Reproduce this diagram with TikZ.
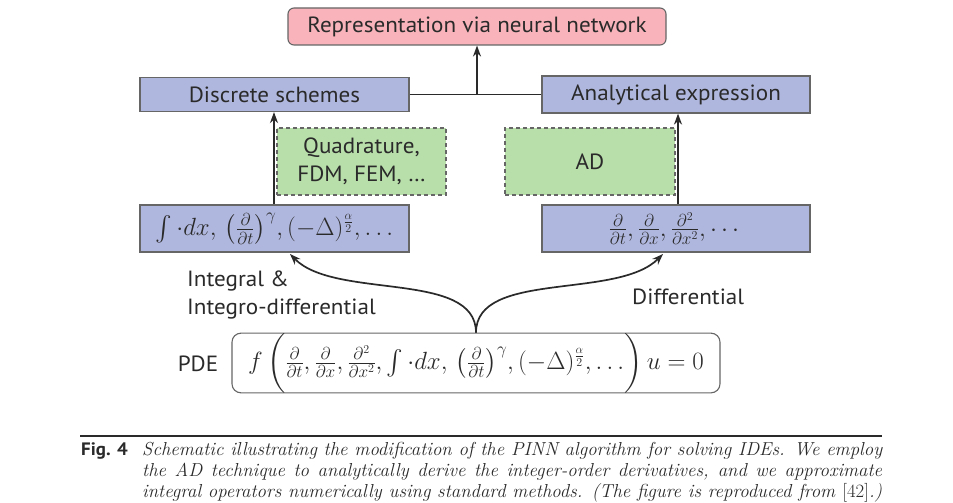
\documentclass[tikz,border=0pt]{standalone}
\usepackage{fontspec}
\setsansfont{PT Sans}[FakeStretch=1.05]
\usepackage{amsmath}
\usetikzlibrary{arrows.meta}
\definecolor{pinkfill}{HTML}{F8B4BA}
\definecolor{lavfill}{HTML}{B0B7DE}
\definecolor{greenfill}{HTML}{B8DEAA}
\definecolor{edgegray}{HTML}{666666}
\definecolor{ink}{HTML}{2A2A2A}
\begin{document}
\begin{tikzpicture}[x=1pt,y=-1pt,
  lbl/.style={font=\sffamily\fontsize{22}{28}\selectfont, text=ink},
  mth/.style={font=\fontsize{24.5}{28}\selectfont, text=ink},
  repbox/.style={draw=edgegray, line width=1.1pt, fill=pinkfill, rounded corners=6pt, inner sep=0pt},
  lavbox/.style={draw=edgegray, line width=1.2pt, fill=lavfill, inner sep=0pt},
  greenbox/.style={draw=edgegray, line width=1.1pt, dashed, dash pattern=on 4pt off 3pt, fill=greenfill, inner sep=0pt},
  pdebox/.style={draw=edgegray, line width=1.1pt, fill=white, rounded corners=9pt, inner sep=0pt},
  conn/.style={draw=ink, line width=1.7pt},
  arr/.style={conn, -{Stealth[length=11pt,width=8pt]}},
  captxt/.style={font=\fontsize{18.8}{21}\selectfont\itshape, text=ink, inner sep=0pt, anchor=base west}
]
\useasboundingbox[fill=white] (0,0) rectangle (953,503);

% boxes
\node[repbox, lbl, minimum width=378pt, minimum height=37pt] (rep) at (477,26.5) {Representation via neural network};
\node[lavbox, lbl, minimum width=269pt, minimum height=34pt] (ds) at (274.5,94.5) {Discrete schemes};
\node[lavbox, lbl, minimum width=268pt, minimum height=37pt] (ae) at (676,94.5) {Analytical expression};
\node[greenbox, lbl, minimum width=169pt, minimum height=67pt, align=center] (quad) at (361.5,161.5) {Quadrature,\\ FDM, FEM, \ldots};
\node[greenbox, lbl, minimum width=170pt, minimum height=67pt] (ad) at (590,161.5) {AD};
\node[lavbox, mth, minimum width=269pt, minimum height=47pt] (lf) at (274.5,228.5)
  {$\int \cdot dx,\, \left(\frac{\partial}{\partial t}\right)^{\gamma}\!, (-\Delta)^{\frac{\alpha}{2}}, \ldots$};
\node[lavbox, mth, minimum width=268pt, minimum height=47pt] (rf) at (676,228.5)
  {$\frac{\partial}{\partial t}, \frac{\partial}{\partial x}, \frac{\partial^2}{\partial x^2}, \cdots$};
\node[pdebox, mth, minimum width=488pt, minimum height=58pt] (pde) at (476,363)
  {$f\,\biggl(\frac{\partial}{\partial t}, \frac{\partial}{\partial x}, \frac{\partial^2}{\partial x^2}, \int \cdot dx,\, \left(\frac{\partial}{\partial t}\right)^{\gamma}\!, (-\Delta)^{\frac{\alpha}{2}}, \ldots\biggr)\, u = 0$};

% labels
\node[lbl, anchor=base] (pdel) at (198,371) {PDE};
\node[lbl, anchor=north west, inner sep=0pt, align=left] (intl) at (187,271) {Integral \&\\Integro-differential};
\node[lbl, anchor=base west, inner sep=0pt] (difl) at (632,304) {Differential};

% connectors
\coordinate (mid) at (477,94.5);
\draw[conn] (ds.east) -- (ae.west);
\draw[arr] (mid) -- (rep.south);
\coordinate (lfa) at (274,205);
\coordinate (dsa) at (274,111);
\coordinate (rfa) at (678,205);
\coordinate (aea) at (678,113);
\draw[arr] (lf.north -| lfa) -- (ds.south -| dsa);
\draw[arr] (rf.north -| rfa) -- (ae.south -| aea);
\coordinate (lt) at (290,254);
\coordinate (rt) at (663,254);
\draw[arr] (pde.north) .. controls (476,270) and (335,300) .. (lt);
\draw[arr] (pde.north) .. controls (476,270) and (617,300) .. (rt);

% caption
\coordinate (rl) at (80,436);
\coordinate (rr) at (882,436);
\draw[draw=ink, line width=1.2pt] (rl) -- (rr);
\node[font=\sffamily\bfseries\fontsize{18}{21}\selectfont, text=ink, inner sep=0pt, anchor=base west] (fig) at (81,455) {Fig. 4};
\node[captxt] (c1) at (142,455) {\makebox[740pt][s]{Schematic illustrating the modification of the PINN algorithm for solving IDEs. We employ}};
\node[captxt] (c2) at (142,476) {\makebox[740pt][s]{the AD technique to analytically derive the integer-order derivatives, and we approximate}};
\node[captxt] (c3) at (142,497) {\makebox[740pt][s]{integral operators numerically using standard methods. (The figure is reproduced from \textup{[42]}.)}};
\end{tikzpicture}
\end{document}
